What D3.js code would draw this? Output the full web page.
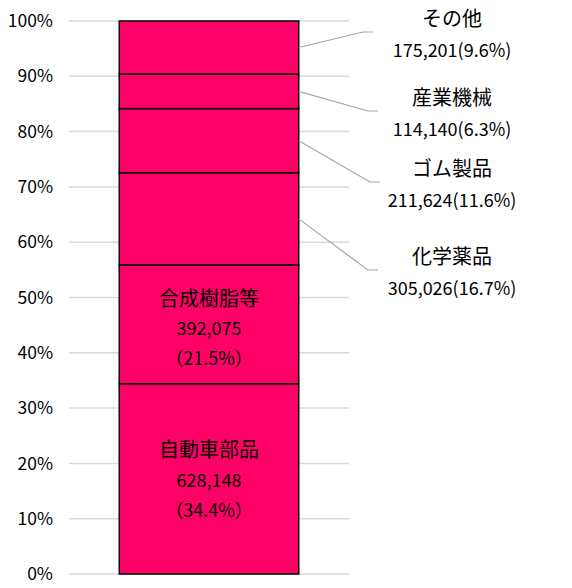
<!DOCTYPE html>
<html>
<head>
<meta charset="utf-8">
<script src="https://cdn.jsdelivr.net/npm/d3@7"></script>
<style>
  body { margin: 0; background: #fff; }
  text { font-family: "Noto Sans CJK JP", "Noto Sans", sans-serif; fill: #000; }
</style>
</head>
<body>
<svg id="chart" width="572" height="588"></svg>
<script>
// data, bottom to top
const categories = ["自動車部品", "合成樹脂等", "化学薬品", "ゴム製品", "産業機械", "その他"];
const values = [628148, 392075, 305026, 211624, 114140, 175201];
const shares = ["34.4%", "21.5%", "16.7%", "11.6%", "6.3%", "9.6%"];
const tickValues = [0, 0.1, 0.2, 0.3, 0.4, 0.5, 0.6, 0.7, 0.8, 0.9, 1.0];

const svg = d3.select("#chart");
const margin = {top: 21, left: 69, right: 223, bottom: 14};
const width = +svg.attr("width"), height = +svg.attr("height");

const total = d3.sum(values);
let acc = 0;
const stack = values.map((v, i) => {
  const d = {name: categories[i], value: v, share: shares[i], y0: acc / total};
  acc += v;
  d.y1 = acc / total;
  return d;
});

const y = d3.scaleLinear()
  .domain([0, 1])
  .range([height - margin.bottom, margin.top]);
const x = d3.scaleBand()
  .domain(["all"])
  .range([margin.left, width - margin.right])
  .paddingInner(0)
  .paddingOuter(0.28);

// grid
svg.append("g")
  .selectAll("line").data(tickValues)
  .enter().append("line")
    .attr("x1", margin.left)
    .attr("x2", width - margin.right)
    .attr("y1", d => y(d))
    .attr("y2", d => y(d))
    .attr("stroke", "#d9d9d9")
    .attr("stroke-width", 1.5);

// y axis labels
const yAxis = d3.axisLeft(y)
  .tickValues(tickValues)
  .tickFormat(d3.format(".0%"))
  .tickSize(0)
  .tickPadding(0);
svg.append("g")
  .attr("transform", `translate(${margin.left - 16},0)`)
  .call(yAxis)
  .call(g => g.select(".domain").remove())
  .call(g => g.selectAll("text")
    .attr("font-size", 17.5)
    .attr("fill", "#000")
    .style("font-family", "'Noto Sans CJK JP', sans-serif"));

// bar segments
svg.append("g")
  .selectAll("rect").data(stack)
  .enter().append("rect")
    .attr("x", x("all"))
    .attr("width", x.bandwidth())
    .attr("y", d => y(d.y1))
    .attr("height", d => y(d.y0) - y(d.y1))
    .attr("fill", "#ff0066")
    .attr("stroke", "#000")
    .attr("stroke-width", 1.5);

const fmt = d3.format(",");
const cx = x("all") + x.bandwidth() / 2;

// inside labels for the two big segments
const inside = stack.slice(0, 2);
const inG = svg.append("g").selectAll("g").data(inside)
  .enter().append("g")
    .attr("transform", d => `translate(${cx},${(y(d.y0) + y(d.y1)) / 2})`);
inG.each(function(d, i) {
  const g = d3.select(this);
  const off = i === 0 ? 0 : 3;
  const lines = [d.name, fmt(d.value), `（${d.share}）`];
  lines.forEach((t, k) => {
    g.append("text")
      .attr("y", (k - 1) * 30 + off)
      .attr("text-anchor", "middle")
      .attr("dominant-baseline", "central")
      .attr("font-size", k === 0 ? 20 : 18)
      .text(t);
  });
});

// outside labels with leader lines
const outside = stack.slice(2);
const elbowY = [270, 182, 111, 32];   // layout of the callouts
const elbowX = [368, 370, 368, 363];
const labelX = 452;
const xr = x("all") + x.bandwidth();

const outG = svg.append("g").selectAll("g").data(outside)
  .enter().append("g");
outG.append("polyline")
  .attr("points", (d, i) => {
    const ym = (y(d.y0) + y(d.y1)) / 2;
    return `${xr},${ym} ${elbowX[i]},${elbowY[i]} ${elbowX[i] + 10},${elbowY[i]}`;
  })
  .attr("fill", "none")
  .attr("stroke", "#a6a6a6")
  .attr("stroke-width", 1.2);
outG.append("text")
  .attr("x", labelX)
  .attr("y", (d, i) => elbowY[i] - 15)
  .attr("text-anchor", "middle")
  .attr("dominant-baseline", "central")
  .attr("font-size", 20)
  .text(d => d.name);
outG.append("text")
  .attr("x", labelX)
  .attr("y", (d, i) => elbowY[i] + 17)
  .attr("text-anchor", "middle")
  .attr("dominant-baseline", "central")
  .attr("font-size", 18)
  .text(d => `${fmt(d.value)}(${d.share})`);
</script>
</body>
</html>
